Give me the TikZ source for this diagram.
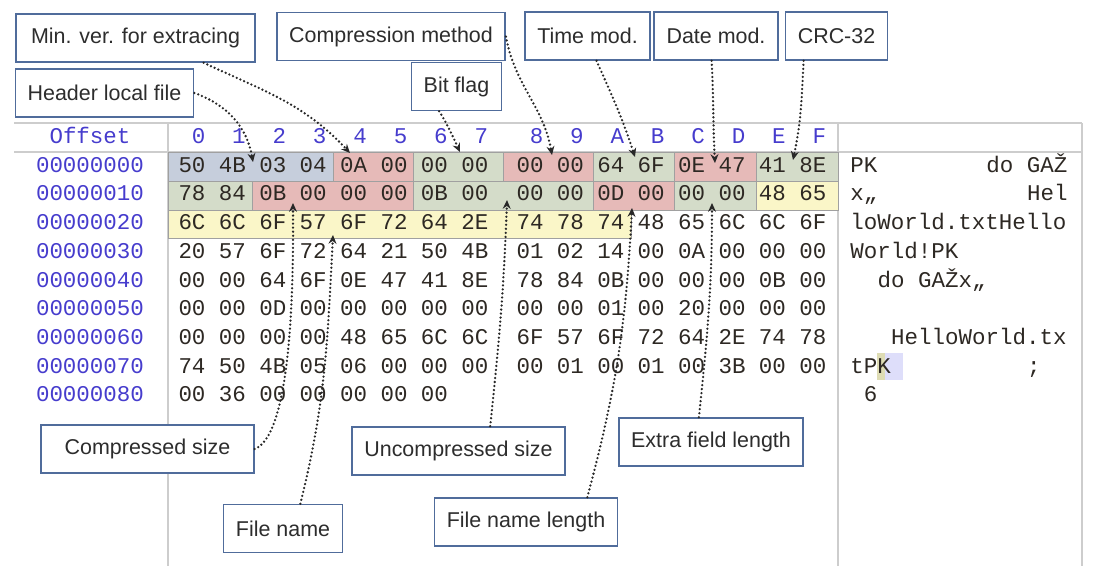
\documentclass[tikz,border=0pt]{standalone}
\usepackage{fontspec}
\setmainfont{Liberation Sans}
\newfontfamily\hexfont{Liberation Mono}
\usetikzlibrary{arrows.meta}

\definecolor{lblline}{RGB}{80,108,155}
\definecolor{lbltext}{RGB}{45,45,45}
\definecolor{offblue}{RGB}{70,60,205}
\definecolor{hextext}{RGB}{45,40,35}
\definecolor{gridgray}{RGB}{205,205,205}
\definecolor{edgegray}{RGB}{160,160,160}
\definecolor{sigblue}{RGB}{198,206,220}
\definecolor{fldred}{RGB}{230,186,184}
\definecolor{fldgreen}{RGB}{212,220,201}
\definecolor{fldyellow}{RGB}{250,246,200}
\definecolor{selkhaki}{RGB}{222,220,180}
\definecolor{sellav}{RGB}{222,222,250}
\definecolor{dotgray}{RGB}{40,40,40}

\begin{document}
\begin{tikzpicture}[scale=0.2]
\tikzstyle{every node}+=[inner sep=0pt]
\tikzstyle{lbl}=[draw=lblline, line width=0.9pt, fill=white, text=lbltext, font=\fontsize{12.2}{14}\selectfont, inner xsep=7pt, minimum height=27.3pt]
\tikzstyle{hex}=[text=hextext, font=\hexfont\fontsize{12.8}{14}\selectfont, text height=8pt, text depth=2pt]
\tikzstyle{ofs}=[hex, text=offblue]
\tikzstyle{fld}=[draw=edgegray, line width=0.4pt]
\tikzstyle{ptr}=[dotgray, line width=1.45pt, dash pattern=on 0pt off 2.3pt, line cap=round, -{Stealth[length=5pt,width=4.5pt]}]
\useasboundingbox (0,0) rectangle (112,-56.6);
\draw [gridgray, line width=1pt] (1.4,-12.3) -- (108.2,-12.3);
\draw [gridgray, line width=1pt] (1.4,-15.2) -- (108.2,-15.2);
\foreach \x in {16.8,83.8,108.2}
  \draw [gridgray, line width=1pt] (\x,-12.3) -- (\x,-56.6);
\foreach \a/\b/\y/\c in {16.8/33.3/0/sigblue, 33.3/41.3/0/fldred, 41.3/50.3/0/fldgreen, 50.3/59.3/0/fldred,
    59.3/67.4/0/fldgreen, 67.4/75.6/0/fldred, 75.6/83.8/0/fldgreen,
    16.8/25.25/1/fldgreen, 25.25/41.3/1/fldred, 41.3/59.3/1/fldgreen, 59.3/67.4/1/fldred,
    67.4/75.6/1/fldgreen, 75.6/83.8/1/fldyellow, 16.8/63.1/2/fldyellow}
  \draw [fld, fill=\c] (\a,{-15.26-2.87*\y}) rectangle (\b,{-18.13-2.87*\y});
\fill [selkhaki] (87.7,-35.3) rectangle (88.5,-38.0);
\fill [sellav] (88.5,-35.3) rectangle (90.3,-38.0);
\node [ofs] (offhdr) at (9.0,-13.8) {Offset};
\foreach \d [count=\c from 0] in {0,1,2,3,4,5,6,7,8,9,A,B,C,D,E,F} {
  \pgfmathsetmacro\hx{19.85+4.04*\c+1.48*(\c>7)}
  \node [ofs] (col\d) at (\hx,-13.8) {\d};
}
\foreach \r in {0,...,8}
  \node [ofs] (row\r) at (9.0,{-16.7-2.87*\r}) {000000\r0};
\foreach \row [count=\r from 0] in {{50,4B,03,04,0A,00,00,00,00,00,64,6F,0E,47,41,8E},
    {78,84,0B,00,00,00,0B,00,00,00,0D,00,00,00,48,65},
    {6C,6C,6F,57,6F,72,64,2E,74,78,74,48,65,6C,6C,6F},
    {20,57,6F,72,64,21,50,4B,01,02,14,00,0A,00,00,00},
    {00,00,64,6F,0E,47,41,8E,78,84,0B,00,00,00,0B,00},
    {00,00,0D,00,00,00,00,00,00,00,01,00,20,00,00,00},
    {00,00,00,00,48,65,6C,6C,6F,57,6F,72,64,2E,74,78},
    {74,50,4B,05,06,00,00,00,00,01,00,01,00,3B,00,00},
    {00,36,00,00,00,00,00}} {
  \foreach \b [count=\c from 0] in \row {
    \pgfmathsetmacro\hx{19.2+4.04*\c+1.48*(\c>7)}
    \node [hex] (h\r-\c) at (\hx,{-16.7-2.87*\r}) {\b};
  }
}
\foreach \k/\r/\s in {0/0/PK, 10/0/do GAŽ, 0/1/x„, 13/1/Hel, 0/2/loWorld.txtHello, 0/3/World!PK,
    2/4/do GAŽx„, 3/6/HelloWorld.tx, 0/7/tPK, 13/7/;, 1/8/6}
  \node [hex, anchor=west] (txt\r-\k) at ({85.0+1.36*\k},{-16.7-2.87*\r}) {\s};
\node [lbl, minimum width=136pt] (minver) at (13.55,-3.8) {Min. ver. for extracing};
\node [lbl] (hdr) at (10.45,-9.3) {Header local file};
\node [lbl] (method) at (39.1,-3.65) {Compression method};
\node [lbl] (flag) at (45.65,-8.65) {Bit flag};
\node [lbl] (time) at (58.75,-3.6) {Time mod.};
\node [lbl] (date) at (71.6,-3.6) {Date mod.};
\node [lbl] (crc) at (83.65,-3.6) {CRC-32};
\node [lbl, minimum width=121pt] (csize) at (14.75,-44.9) {Compressed size};
\node [lbl] (fname) at (28.3,-52.85) {File name};
\node [lbl] (usize) at (45.85,-45.1) {Uncompressed size};
\node [lbl] (fnlen) at (52.6,-52.2) {File name length};
\node [lbl] (extra) at (71.1,-44.2) {Extra field length};
\coordinate (minverpt) at (35.0,-15.3);
\coordinate (hdrpt) at (25.3,-16.2);
\coordinate (flagpt) at (46.0,-15.2);
\coordinate (methodpt) at (55.2,-15.5);
\coordinate (timept) at (63.5,-15.7);
\coordinate (datept) at (71.5,-16.3);
\coordinate (crcpt) at (79.3,-16.0);
\coordinate (csizept) at (29.3,-20.3);
\coordinate (fnamept) at (33.3,-23.5);
\coordinate (usizept) at (50.7,-20.0);
\coordinate (fnlenpt) at (63.2,-20.8);
\coordinate (extrapt) at (71.2,-20.3);
\draw [ptr] (minver.-20) to [out=-25, in=133] (minverpt);
\draw [ptr] (hdr.east) to [out=-20, in=100] (hdrpt);
\draw [ptr] (flag.-125) to [out=-58, in=115] (flagpt);
\draw [ptr] (method.east) to [out=-80, in=100] (methodpt);
\draw [ptr] (time.-70) to [out=-66, in=108] (timept);
\draw [ptr] (date.-100) to [out=-87, in=93] (datept);
\draw [ptr] (crc.-143) to [out=-93, in=78] (crcpt);
\draw [ptr] (csize.east) to [out=20, in=-90, looseness=0.45] (csizept);
\draw [ptr] (fname.55) to [out=76, in=-93] (fnamept);
\draw [ptr] (usize.38) to [out=84, in=-92] (usizept);
\draw [ptr] (fnlen.22) to [out=75, in=-93] (fnlenpt);
\draw [ptr] (extra.116) to [out=84, in=-90] (extrapt);
\end{tikzpicture}
\end{document}
